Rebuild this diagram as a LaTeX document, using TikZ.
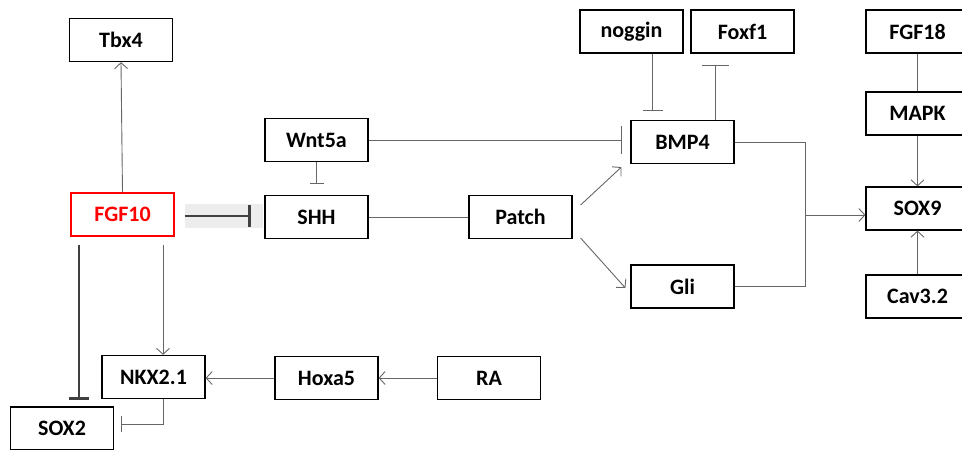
\documentclass[tikz,border=0pt]{standalone}
\usepackage{fontspec}
\setmainfont{Carlito}
\usetikzlibrary{arrows.meta,calc}

\begin{document}
\begin{tikzpicture}[x=1pt, y=-1pt,
  gene/.style={rectangle, draw=black, line width=1.2pt, minimum width=103pt, minimum height=43pt, inner sep=0pt, font=\fontsize{22}{26}\selectfont\bfseries},
  link/.style={draw=black!60, line width=0.9pt},
  act/.style={link, -{Straight Barb[length=6pt, width=13pt]}},
  inh/.style={link, -{Bar[width=#1]}},
  inh/.default=20pt,
  strong/.style={draw=black!75, line width=2.4pt, -{Bar[width=#1, line width=3pt]}}]
\path[use as bounding box, clip] (0,0) rectangle (962,450);

\node[gene] (tbx4) at (121,40) {Tbx4};
\node[gene, draw=red, text=red] (fgf10) at (122.5,214.5) {FGF10};
\node[gene] (shh) at (316.5,217) {SHH};
\node[gene] (wnt5a) at (316.5,140) {Wnt5a};
\node[gene] (patch) at (520.5,217) {Patch};
\node[gene] (bmp4) at (682.5,142) {BMP4};
\node[gene] (gli) at (682.5,286.5) {Gli};
\node[gene] (noggin) at (631.5,31.5) {noggin};
\node[gene] (foxf1) at (742.5,31.5) {Foxf1};
\node[gene] (fgf18) at (917.5,31.5) {FGF18};
\node[gene] (mapk) at (917.5,113.5) {MAPK};
\node[gene] (sox9) at (917.5,208.5) {SOX9};
\node[gene] (cav32) at (917.5,296.5) {Cav3.2};
\node[gene] (nkx21) at (153.5,377) {NKX2.1};
\node[gene] (hoxa5) at (326.5,378) {Hoxa5};
\node[gene] (ra) at (489,378) {RA};
\node[gene] (sox2) at (62,428.5) {SOX2};

\coordinate (shh in) at ($(shh.west)+(-13,-1)$);
\coordinate (fgf10 out) at ($(fgf10.east)+(10,0)$);
\coordinate (bmp4 in) at ($(bmp4.west)+(-9,0)$);
\coordinate (join) at (805,215);
\coordinate (nkx top) at ($(fgf10.south)+(40.5,8)$);
\coordinate (sox2 top) at ($(fgf10.south)+(-43.5,8)$);

\fill[black!7] (fgf10 out |- 0,204) rectangle (263,228);
\draw[act] (fgf10.north) -- (tbx4.south);
\draw[strong=22pt] (fgf10 out |- shh in) -- (shh in);
\draw[inh=14pt] (wnt5a.south) -- ++(0,22);
\draw[inh=28pt] (wnt5a.east) -- (wnt5a.east -| bmp4 in);
\draw[link] (shh.east) -- (patch.west);
\draw[act] ($(patch.east)+(8,-12)$) -- ($(bmp4.south west)+(-9,3)$);
\draw[act] ($(patch.east)+(8,21)$) -- ($(gli.west)+(-5,1.5)$);
\draw[inh] ($(noggin.south)+(21,0)$) -- ++(0,57);
\draw[inh=27pt] ($(bmp4.north)+(33,0)$) -- ++(0,-55);
\draw[link] (bmp4.east) -- ++(71,0) |- (gli.east);
\draw[act] (join) -- (join -| sox9.west);
\draw[link] (fgf18.south) -- (mapk.north);
\draw[act] (mapk.south) -- (sox9.north);
\draw[act] (cav32.north) -- (sox9.south);
\draw[act] (nkx top) -- (nkx top |- nkx21.north);
\draw[act] (hoxa5.west) -- (hoxa5.west -| nkx21.east);
\draw[act] (ra.west) -- (hoxa5.east);
\draw[strong=20pt] (sox2 top) -- ($(sox2.north)+(17,-6)$);
\draw[inh=16pt] (nkx top |- nkx21.south) |- ($(sox2.east)+(7,-4.5)$);
\end{tikzpicture}
\end{document}
